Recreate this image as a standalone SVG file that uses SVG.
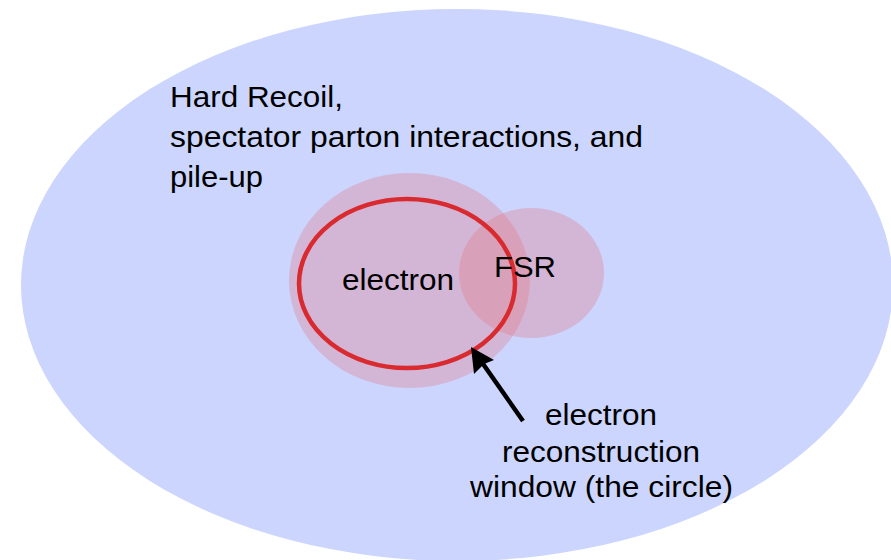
<svg xmlns="http://www.w3.org/2000/svg" width="891" height="560" viewBox="0 0 891 560">
<style>
  .lbl { font-family: "Liberation Sans", Arial, sans-serif; font-size: 30px; fill: #000; }
  .blob { fill: #e8707a; fill-opacity: 0.3; }
</style>
<rect x="0" y="0" width="891" height="560" fill="#ffffff"/>
<g id="background-region">
  <ellipse cx="457" cy="285" rx="436" ry="276" fill="#cbd5fd"/>
  <text class="lbl" x="170" y="107" textLength="173" lengthAdjust="spacingAndGlyphs">Hard Recoil,</text>
  <text class="lbl" x="170" y="147" textLength="473" lengthAdjust="spacingAndGlyphs">spectator parton interactions, and</text>
  <text class="lbl" x="170" y="187" textLength="93" lengthAdjust="spacingAndGlyphs">pile-up</text>
</g>
<g id="electron">
  <ellipse class="blob" cx="409.5" cy="280.5" rx="120.5" ry="107.5"/>
</g>
<g id="fsr">
  <ellipse class="blob" cx="531.5" cy="273" rx="72.5" ry="65"/>
</g>
<g id="window">
  <ellipse cx="407" cy="283.5" rx="108" ry="84.5" fill="none" stroke="#d92a2f" stroke-width="4.5"/>
</g>
<g id="labels">
  <text class="lbl" x="342" y="290" textLength="112" lengthAdjust="spacingAndGlyphs">electron</text>
  <text class="lbl" x="494" y="277" textLength="62" lengthAdjust="spacingAndGlyphs">FSR</text>
</g>
<g id="connectors">
  <line x1="523" y1="421" x2="481" y2="361" stroke="#000" stroke-width="4.5"/>
  <polygon points="471,347 494,360 484,364 474,374" fill="#000"/>
</g>
<g id="window-label">
  <text class="lbl" x="601" y="425" text-anchor="middle" textLength="112" lengthAdjust="spacingAndGlyphs">electron</text>
  <text class="lbl" x="601" y="462" text-anchor="middle" textLength="198" lengthAdjust="spacingAndGlyphs">reconstruction</text>
  <text class="lbl" x="601.5" y="497" text-anchor="middle" textLength="263" lengthAdjust="spacingAndGlyphs">window (the circle)</text>
</g>
</svg>
